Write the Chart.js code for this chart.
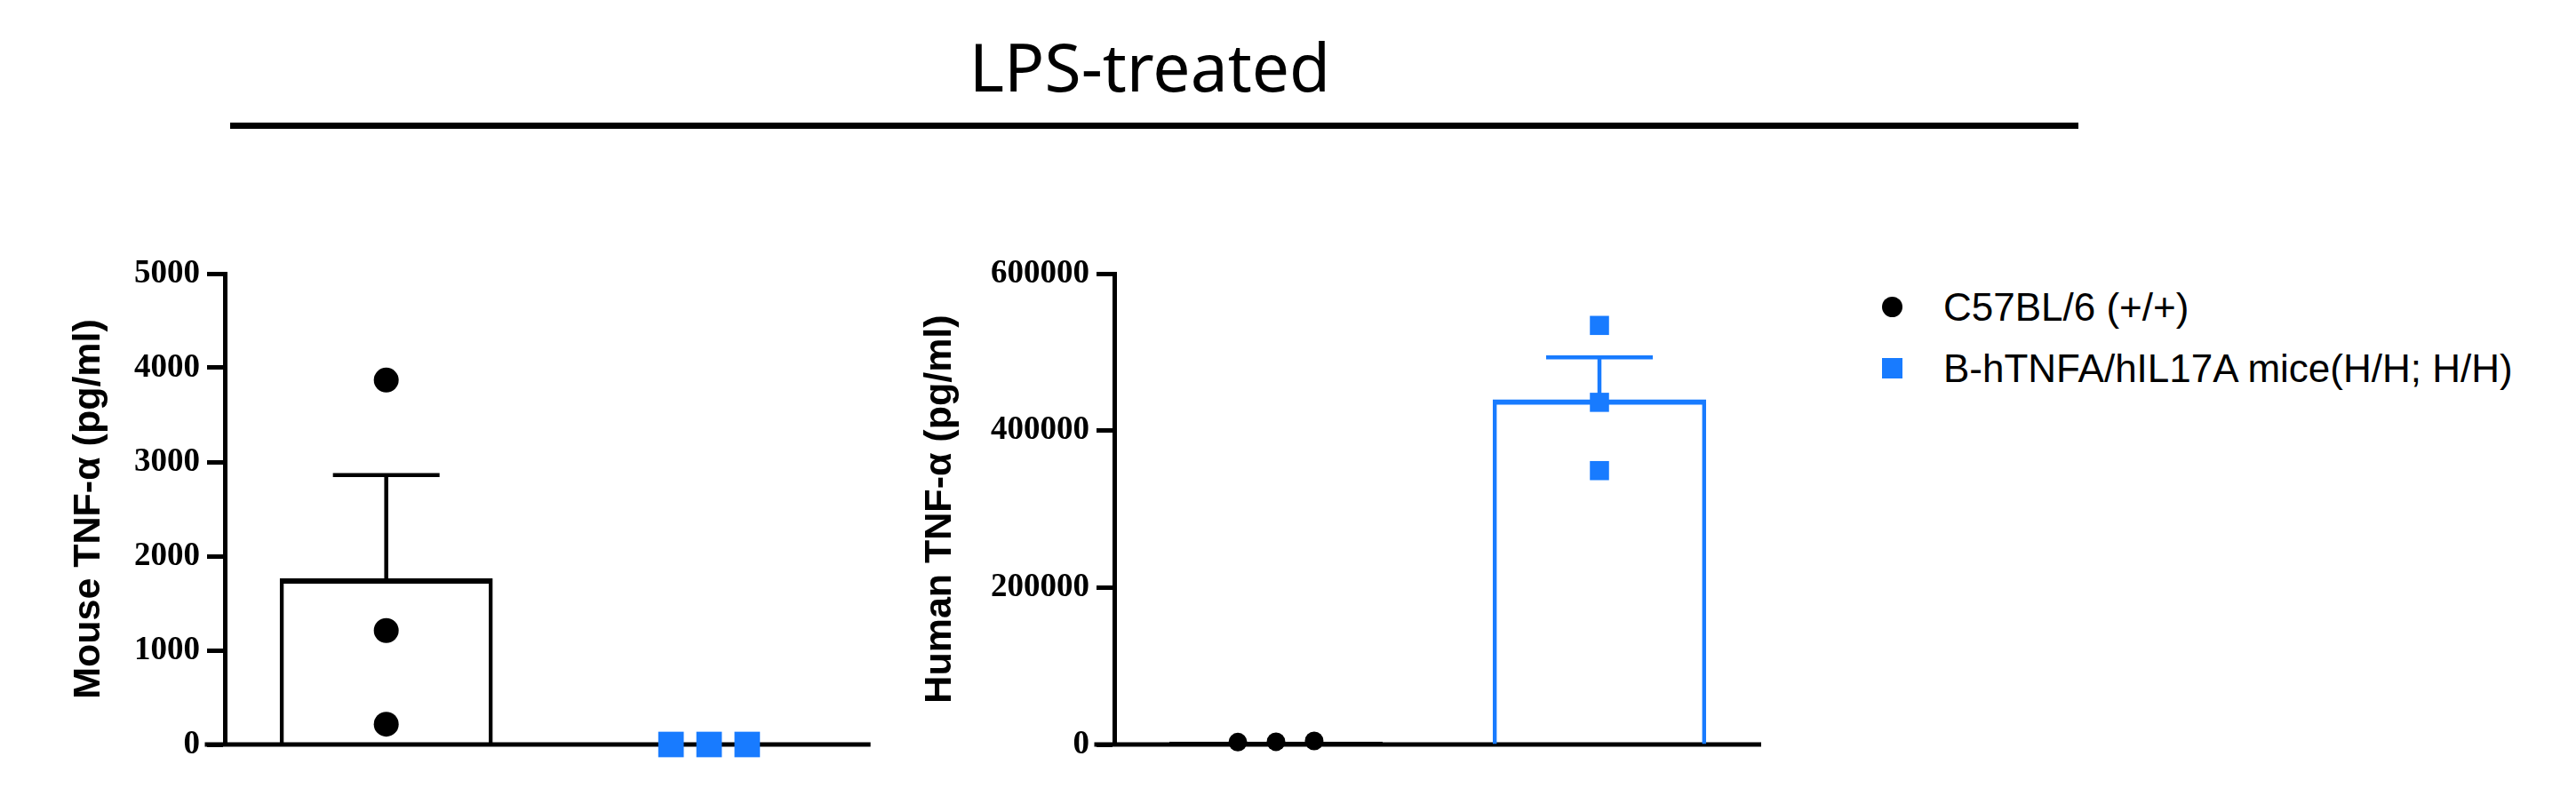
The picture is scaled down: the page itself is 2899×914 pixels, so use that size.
<!DOCTYPE html>
<html>
<head>
<meta charset="utf-8">
<script src="https://cdn.jsdelivr.net/npm/chart.js@4.4.1/dist/chart.umd.min.js"></script>
<style>
  html, body { margin: 0; padding: 0; background: #fff; }
  body { width: 2899px; height: 914px; position: relative; overflow: hidden; }
  #title { position: absolute; left: 1294px; top: 37px; transform: translateX(-50%);
           font-family: "Noto Sans"; font-size: 75px; line-height: 75px; white-space: nowrap; color: #000; }
  #rule { position: absolute; left: 259px; top: 138px; width: 2080px; height: 7px; background: #000; }
  canvas { position: absolute; top: 250px; }
  #legend { position: absolute; left: 2118px; top: 311px; font-family: "Liberation Sans"; font-size: 44px; color: #000; }
  .item { display: flex; align-items: center; height: 69px; white-space: nowrap; }
  .mark { width: 23px; height: 23px; margin-right: 46px; flex: none; }
</style>
</head>
<body>
<div id="title">LPS-treated</div>
<div id="rule"></div>
<canvas id="mouseChart" width="1000" height="620" style="left:0px"></canvas>
<canvas id="humanChart" width="1000" height="620" style="left:1000px"></canvas>
<div id="legend">
  <div class="item"><span class="mark" style="background:#000;border-radius:50%"></span>C57BL/6 (+/+)</div>
  <div class="item"><span class="mark" style="background:#187bff"></span>B-hTNFA/hIL17A mice(H/H; H/H)</div>
</div>
<script>
// groups
const groups = ['C57BL/6 (+/+)', 'B-hTNFA/hIL17A mice(H/H; H/H)'];
const groupColors = ['#000000', '#187bff'];

// mouse TNF-α (pg/ml)
const mouseWT = [3870, 1210, 215];
const mouseHum = [0, 0, 0];
const mouseMean = [1765, 0];
const mouseSem = [1095, 0];
const mouseTicks = [0, 1000, 2000, 3000, 4000, 5000];

// human TNF-α (pg/ml)
const humanWT = [3000, 3500, 4500];
const humanHum = [534000, 436000, 349000];
const humanMean = [3700, 439700];
const humanSem = [0, 53500];
const humanTicks = [0, 200000, 400000, 600000];

const DODGE = 0.118;   // sideways spread for points that sit on top of each other

// points of one group; spread them out only when they would overlap
function spread(values, group, yMax) {
    const flat = Math.max(...values) - Math.min(...values) < yMax * 0.03;
    return values.map((v, i) => ({
        x: group + (flat ? (i - (values.length - 1) / 2) * DODGE : 0),
        y: v
    }));
}

// x axis line, running out past the y axis like in Prism
const baseLine = {
    id: 'baseLine',
    beforeDatasetsDraw(chart) {
        const { ctx, chartArea, scales: { y } } = chart;
        const y0 = y.getPixelForValue(0);
        ctx.save();
        ctx.strokeStyle = '#000';
        ctx.lineWidth = 5;
        ctx.beginPath();
        ctx.moveTo(chartArea.left - 22.5, y0);
        ctx.lineTo(chartArea.right, y0);
        ctx.stroke();
        ctx.restore();
    }
};

// SEM whiskers (upper only), drawn right after the bars
const errorBars = {
    id: 'errorBars',
    afterDatasetDraw(chart, args, opts) {
        if (args.meta.type !== 'bar') return;
        const { ctx, scales: { y } } = chart;
        const values = chart.data.datasets[args.index].data;
        args.meta.data.forEach((bar, i) => {
            if (!opts.sem[i]) return;
            const top = y.getPixelForValue(values[i].y + opts.sem[i]);
            ctx.save();
            ctx.strokeStyle = groupColors[i];
            ctx.lineWidth = 4.5;
            ctx.beginPath();
            ctx.moveTo(bar.x, bar.y);
            ctx.lineTo(bar.x, top);
            ctx.moveTo(bar.x - opts.capWidth / 2, top);
            ctx.lineTo(bar.x + opts.capWidth / 2, top);
            ctx.stroke();
            ctx.restore();
        });
    }
};

function panel(id, o) {
    new Chart(document.getElementById(id), {
        type: 'bar',
        data: {
            labels: groups,
            datasets: [
                {
                    type: 'bar',
                    data: o.mean.map((m, i) => ({ x: i, y: m })),
                    order: 2,
                    backgroundColor: 'rgba(0,0,0,0)',
                    borderColor: groupColors,
                    borderWidth: { top: 6, left: 4.5, right: 4.5, bottom: 0 },
                    borderSkipped: false,
                    barPercentage: 0.66,
                    categoryPercentage: 1
                },
                {
                    type: 'scatter',
                    data: spread(o.wt, 0, o.max),
                    order: 1,
                    clip: false,
                    pointStyle: 'circle',
                    pointRadius: o.dot,
                    backgroundColor: groupColors[0],
                    borderWidth: 0
                },
                {
                    type: 'scatter',
                    data: spread(o.hum, 1, o.max),
                    order: 1,
                    clip: false,
                    pointStyle: 'rect',
                    pointRadius: o.dot * 1.45,
                    backgroundColor: groupColors[1],
                    borderWidth: 0
                }
            ]
        },
        options: {
            responsive: false,
            animation: false,
            devicePixelRatio: 1,
            layout: { padding: { left: o.padLeft, right: o.padRight, top: 58, bottom: 32 } },
            plugins: {
                legend: { display: false },
                tooltip: { enabled: false },
                errorBars: { sem: o.sem, capWidth: 120 }
            },
            scales: {
                x: {
                    type: 'linear', display: false, offset: false, min: -0.5, max: 1.5,
                    // one tick per group, so the bars get a full group slot
                    afterBuildTicks: s => { s.ticks = groups.map((g, i) => ({ value: i })); }
                },
                y: {
                    min: 0,
                    max: o.max,
                    afterBuildTicks: s => { s.ticks = o.ticks.map(v => ({ value: v })); },
                    afterFit: s => { s.width = o.axisWidth; },
                    border: { display: true, width: 5, color: '#000' },
                    grid: { drawOnChartArea: false, drawTicks: true, tickLength: 20, tickWidth: 5, tickColor: '#000' },
                    ticks: {
                        color: '#000',
                        padding: 8,
                        font: { family: 'Liberation Serif', size: 37, weight: 'bold' },
                        callback: v => String(v)
                    },
                    title: {
                        display: true,
                        text: o.title,
                        color: '#000',
                        padding: { top: 0, bottom: 0 },
                        font: { family: 'Liberation Sans', size: 43, weight: 'bold' }
                    }
                }
            }
        },
        plugins: [baseLine, errorBars]
    });
}

panel('mouseChart', {
    title: 'Mouse TNF-α (pg/ml)',
    wt: mouseWT, hum: mouseHum, mean: mouseMean, sem: mouseSem,
    max: 5000, ticks: mouseTicks,
    dot: 14, padLeft: 74, axisWidth: 179, padRight: 20
});

panel('humanChart', {
    title: 'Human TNF-α (pg/ml)',
    wt: humanWT, hum: humanHum, mean: humanMean, sem: humanSem,
    max: 600000, ticks: humanTicks,
    dot: 10.5, padLeft: 32, axisWidth: 222, padRight: 18
});
</script>
</body>
</html>
